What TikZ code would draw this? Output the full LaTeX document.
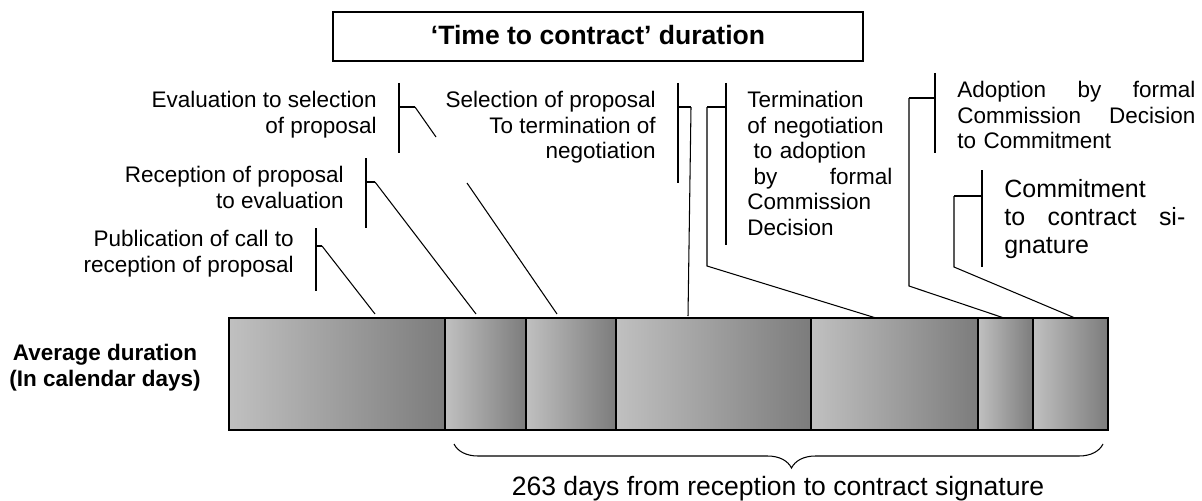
\documentclass[tikz,border=0pt]{standalone}
\usepackage{fontspec}
\setmainfont{Liberation Sans}
\usetikzlibrary{decorations.pathreplacing}
\definecolor{barlight}{RGB}{192,192,192}
\definecolor{bardark}{RGB}{124,124,124}
\tikzset{
  titlebox/.style={draw, line width=0.85pt, minimum width=10.6cm, minimum height=0.98cm,
    inner sep=0pt, text depth=0.24em, font=\bfseries\fontsize{15.1}{17}\selectfont},
  segment/.style={draw=black, line width=0.7pt, left color=barlight, right color=bardark},
  rowlabel/.style={inner sep=0pt, align=center, font=\bfseries\fontsize{12.8}{14.8}\selectfont},
  stagelabel/.style={inner sep=0pt, font=\fontsize{12.8}{14.5}\selectfont},
  biglabel/.style={inner sep=0pt, font=\fontsize{14.2}{15.9}\selectfont},
  bracket/.style={line width=0.75pt},
  leader/.style={line width=0.6pt},
  totalbrace/.style={line width=0.6pt, decorate,
    decoration={brace, mirror, amplitude=0.48cm, aspect=0.52}}
}
\begin{document}
\begin{tikzpicture}[x=0.02cm, y=-0.02cm]
		%%%%% START %%%%%
		\useasboundingbox (0,0) rectangle (1202,500);
		
		\node[titlebox] (title) at (598,36.5) {‘Time to contract’ duration};
		
		% the bar, one piece per stage
		\draw[segment] (229,318) rectangle (445,430);
		\draw[segment] (445,318) rectangle (526,430);
		\draw[segment] (526,318) rectangle (616,430);
		\draw[segment] (616,318) rectangle (811,430);
		\draw[segment] (811,318) rectangle (978,430);
		\draw[segment] (978,318) rectangle (1033,430);
		\draw[segment] (1033,318) rectangle (1108,430);
		
		\node[rowlabel, anchor=north east] (average) at (201,344) {Average duration\\(In calendar days)};
		
		% stage labels
		\node[stagelabel, anchor=north east, align=right] (publication) at (294,230) {Publication of call to\\reception of proposal};
		\node[stagelabel, anchor=north east, align=right] (reception) at (344,166) {Reception of proposal\\to evaluation};
		\node[stagelabel, anchor=north east, align=right] (evaluation) at (377,91) {Evaluation to selection\\of proposal};
		\node[stagelabel, anchor=north east, align=right] (selection) at (656,91) {Selection of proposal\\To termination of\\negotiation};
		\node[stagelabel, anchor=north west, text width=2.9cm, align=left] (termination) at (747,91)
			{Termination\\of negotiation\\\hspace*{0.28em}to adoption\\\hspace*{0.28em}by\hfill formal\\Commission\\Decision};
		\node[stagelabel, anchor=north west, text width=4.76cm, align=left] (adoption) at (957,81)
			{Adoption\hfill by\hfill formal\\Commission\hfill Decision\\to Commitment};
		\node[biglabel, anchor=north west, text width=3.62cm, align=left] (commitment) at (1004,179)
			{Commitment\\to\hfill contract\hfill si-\\gnature};
		
		% brackets and leaders
		\coordinate (pub-a) at (316,228); \coordinate (pub-b) at (316,291);
		\coordinate (pub-r) at (316,246); \coordinate (pub-k) at (322,246);
		\coordinate (pub-e) at (375,314);
		\draw[bracket] (pub-a) -- (pub-b) (pub-r) -- (pub-k);
		\draw[leader] (pub-k) -- (pub-e);
		
		\coordinate (rec-a) at (366,158); \coordinate (rec-b) at (366,228);
		\coordinate (rec-r) at (366,182); \coordinate (rec-k) at (375,182);
		\coordinate (rec-e) at (476,314);
		\draw[bracket] (rec-a) -- (rec-b) (rec-r) -- (rec-k);
		\draw[leader] (rec-k) -- (rec-e);
		
		\coordinate (eva-a) at (399,83); \coordinate (eva-b) at (399,153);
		\coordinate (eva-r) at (399,107); \coordinate (eva-k) at (415,107);
		\coordinate (eva-g1) at (436,137); \coordinate (eva-g2) at (467,183);
		\coordinate (eva-e) at (557,314);
		\draw[bracket] (eva-a) -- (eva-b) (eva-r) -- (eva-k);
		\draw[leader] (eva-k) -- (eva-g1) (eva-g2) -- (eva-e);
		
		\coordinate (sel-a) at (678,83); \coordinate (sel-b) at (678,183);
		\coordinate (sel-r) at (678,107); \coordinate (sel-k) at (691,107);
		\coordinate (sel-e) at (688,316);
		\draw[bracket] (sel-a) -- (sel-b) (sel-r) -- (sel-k);
		\draw[leader] (sel-k) -- (sel-e);
		
		\coordinate (ter-a) at (726,83); \coordinate (ter-b) at (726,245);
		\coordinate (ter-r) at (726,107); \coordinate (ter-k) at (707,107);
		\coordinate (ter-m) at (707,266); \coordinate (ter-e) at (876,318);
		\draw[bracket] (ter-a) -- (ter-b) (ter-r) -- (ter-k);
		\draw[leader] (ter-k) -- (ter-m) -- (ter-e);
		
		\coordinate (ado-a) at (935,73); \coordinate (ado-b) at (935,153);
		\coordinate (ado-r) at (935,98); \coordinate (ado-k) at (909,98);
		\coordinate (ado-m) at (909,286); \coordinate (ado-e) at (1004,318);
		\draw[bracket] (ado-a) -- (ado-b) (ado-r) -- (ado-k);
		\draw[leader] (ado-k) -- (ado-m) -- (ado-e);
		
		\coordinate (com-a) at (982,170); \coordinate (com-b) at (982,267);
		\coordinate (com-r) at (982,196); \coordinate (com-k) at (954,196);
		\coordinate (com-m) at (954,267); \coordinate (com-e) at (1075,318);
		\draw[bracket] (com-a) -- (com-b) (com-r) -- (com-k);
		\draw[leader] (com-k) -- (com-m) -- (com-e);
		
		% total from reception to signature
		\coordinate (brace-l) at (454,444); \coordinate (brace-r) at (1103,444);
		\draw[totalbrace] (brace-l) -- (brace-r);
		\node[anchor=base, inner sep=0pt, font=\fontsize{15.1}{17}\selectfont] (total) at (778,495)
			{263 days from reception to contract signature};
		
		%%%%% END %%%%%
\end{tikzpicture}
\end{document}
